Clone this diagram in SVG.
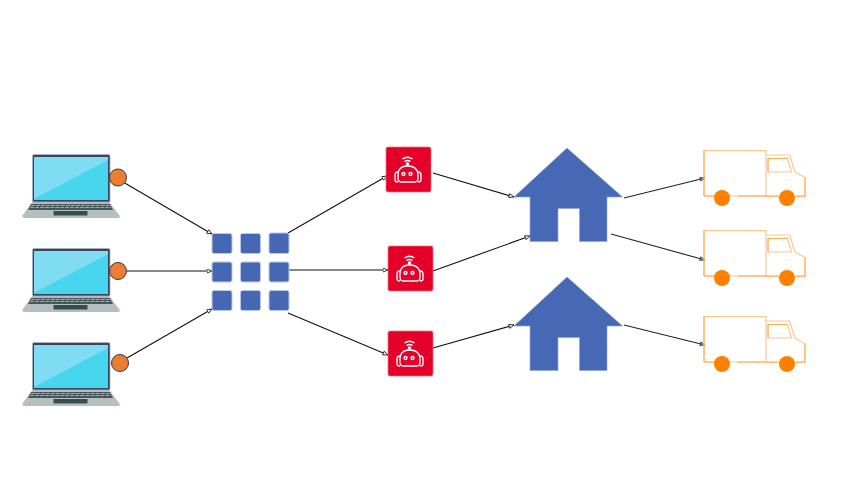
<svg xmlns="http://www.w3.org/2000/svg" width="853" height="480" viewBox="0 0 853 480">
<style>
.conn{stroke:#111;stroke-width:1.100;fill:none;marker-end:url(#arr)}
.connd{stroke:#222;stroke-width:1.100;fill:none;marker-end:url(#arrd)}
.dot{fill:#ed7d31;stroke:#2f3b4c;stroke-width:1}
.sq{fill:#4668b4;stroke:#b9c8e6;stroke-width:1}
.house{fill:#4668b4;stroke:#8ea3d4;stroke-width:.6}
.tl{fill:none;stroke:#ffc78f;stroke-width:1.200}
.td{fill:none;stroke:#ffa94d;stroke-width:1}
.wh{fill:#ff7f00}
.soft{filter:url(#soft)}
</style>
<defs>
<filter id="soft" x="-5%" y="-5%" width="110%" height="110%"><feGaussianBlur stdDeviation=".35"/></filter>
<marker id="arr" markerWidth="7" markerHeight="6" refX="5.500" refY="2.500" orient="auto" markerUnits="userSpaceOnUse"><path d="M.5 .5L5.500 2.500L.5 4.500Z" fill="#fff" stroke="#111" stroke-width=".8"/></marker>
<marker id="arrd" markerWidth="7" markerHeight="6" refX="5.500" refY="2.500" orient="auto" markerUnits="userSpaceOnUse"><path d="M.5 .5L5.500 2.500L.5 4.500Z" fill="#777" stroke="#555" stroke-width=".8"/></marker>
<g id="laptop">
<path d="M33 201L22.500 215.500Q22 218 25 218L118 218Q120.500 218 119.500 215.500L108.500 201Z" fill="#b4bfc0"/>
<rect x="32.500" y="154.500" width="77.500" height="47.500" rx="1.500" fill="#3a4560" stroke="#aab3bb" stroke-width=".8"/>
<rect x="34" y="157" width="74" height="43" fill="#47d6ee"/>
<path d="M34 157H108V160L34 199Z" fill="#7fdcf3"/>
<path d="M31 204H110L113 210H28Z" fill="#46565a"/>
<path d="M31 205.500H110M30 207.500H111" stroke="#c4cdce" stroke-width=".7" stroke-dasharray="4 1"/>
<rect x="53.500" y="211" width="34" height="4.500" fill="#36504f"/>
</g>
<g id="robot">
<rect x="0" y="0" width="45" height="45" rx="2" fill="#e5002b" stroke="#f56a80" stroke-width=".7"/>
<g fill="none" stroke="#fff" stroke-width="1.300">
<path d="M16.500 12Q21.500 8.500 26.500 12M18.500 14.500Q21.500 12.500 24.500 14.500"/>
<path d="M12 31Q11 19 21.500 19Q33 19 32 31Q32 35 29 35H15Q12 35 12 31Z"/>
<path d="M12 25Q9 25 9 28V33Q9 35 12 35M32 25Q35 25 35 28V33Q35 35 32 35"/>
<circle cx="17.500" cy="27" r="1.500"/><circle cx="24.500" cy="27" r="1.500"/>
</g>
<circle cx="21.500" cy="17" r="1.800" fill="#fff"/>
</g>
<g id="house">
<path class="house" d="M567 148L622.500 197H607V241.500H579.500V208.500H558V241.500H530V197H514Z"/>
</g>
<g id="truck">
<path class="tl" d="M704 150.500H766V196H704Z"/>
<path class="tl" d="M766 155H789.500L795 172L805 177.500V196.500H766"/>
<path class="tl" d="M768 158.500H787.500L791.500 172H768Z"/>
<path class="td" d="M704 150.500V196H720M738 196H778M796 196H805V177.500M768 172V158.500H787.500"/>
<circle class="wh" cx="722" cy="198" r="8"/>
<circle class="wh" cx="787" cy="198" r="8"/>
</g>
</defs>
<rect width="853" height="480" fill="#fff"/>
<g id="connectors">
<path class="conn" d="M123 182L212 234"/>
<path class="conn" d="M127 271H212"/>
<path class="conn" d="M127 358L212 309"/>
<path class="conn" d="M288 233L387 176"/>
<path class="conn" d="M288 270H388"/>
<path class="conn" d="M288 313L388 355"/>
<path class="conn" d="M433 173L514 197"/>
<path class="conn" d="M433 271L530 236"/>
<path class="conn" d="M433 348L514 325"/>
<path class="connd" d="M624 198L705 178"/>
<path class="connd" d="M611 234L705 260"/>
<path class="connd" d="M624 325L705 345"/>
</g>
<g id="laptop1"><use class="soft" href="#laptop"/><circle class="dot" cx="118" cy="177.500" r="8.500"/></g>
<g id="laptop2"><use class="soft" href="#laptop" y="94"/><circle class="dot" cx="118" cy="271" r="8.500"/></g>
<g id="laptop3"><use class="soft" href="#laptop" y="188"/><circle class="dot" cx="120" cy="363" r="8.500"/></g>
<g id="grid">
<rect class="sq" x="212" y="233.500" width="20" height="20" rx="2"/>
<rect class="sq" x="240.500" y="233.500" width="20" height="20" rx="2"/>
<rect class="sq" x="269" y="233" width="20" height="20.500" rx="2"/>
<rect class="sq" x="212" y="262" width="20" height="20" rx="2"/>
<rect class="sq" x="240.500" y="262" width="20" height="20" rx="2"/>
<rect class="sq" x="269" y="262" width="20" height="20" rx="2"/>
<rect class="sq" x="212" y="290.500" width="20" height="20" rx="2"/>
<rect class="sq" x="240.500" y="290.500" width="20" height="20" rx="2"/>
<rect class="sq" x="269" y="290.500" width="20" height="20" rx="2"/>
</g>
<g id="robot1"><use class="soft" href="#robot" x="386" y="147"/></g>
<g id="robot2"><use class="soft" href="#robot" x="388" y="246"/></g>
<g id="robot3"><use class="soft" href="#robot" x="388" y="331"/></g>
<g id="house1"><use class="soft" href="#house"/></g>
<g id="house2"><use class="soft" href="#house" y="129"/></g>
<g id="truck1"><use class="soft" href="#truck"/></g>
<g id="truck2"><use class="soft" href="#truck" y="80"/></g>
<g id="truck3"><use class="soft" href="#truck" y="166"/></g>
</svg>
